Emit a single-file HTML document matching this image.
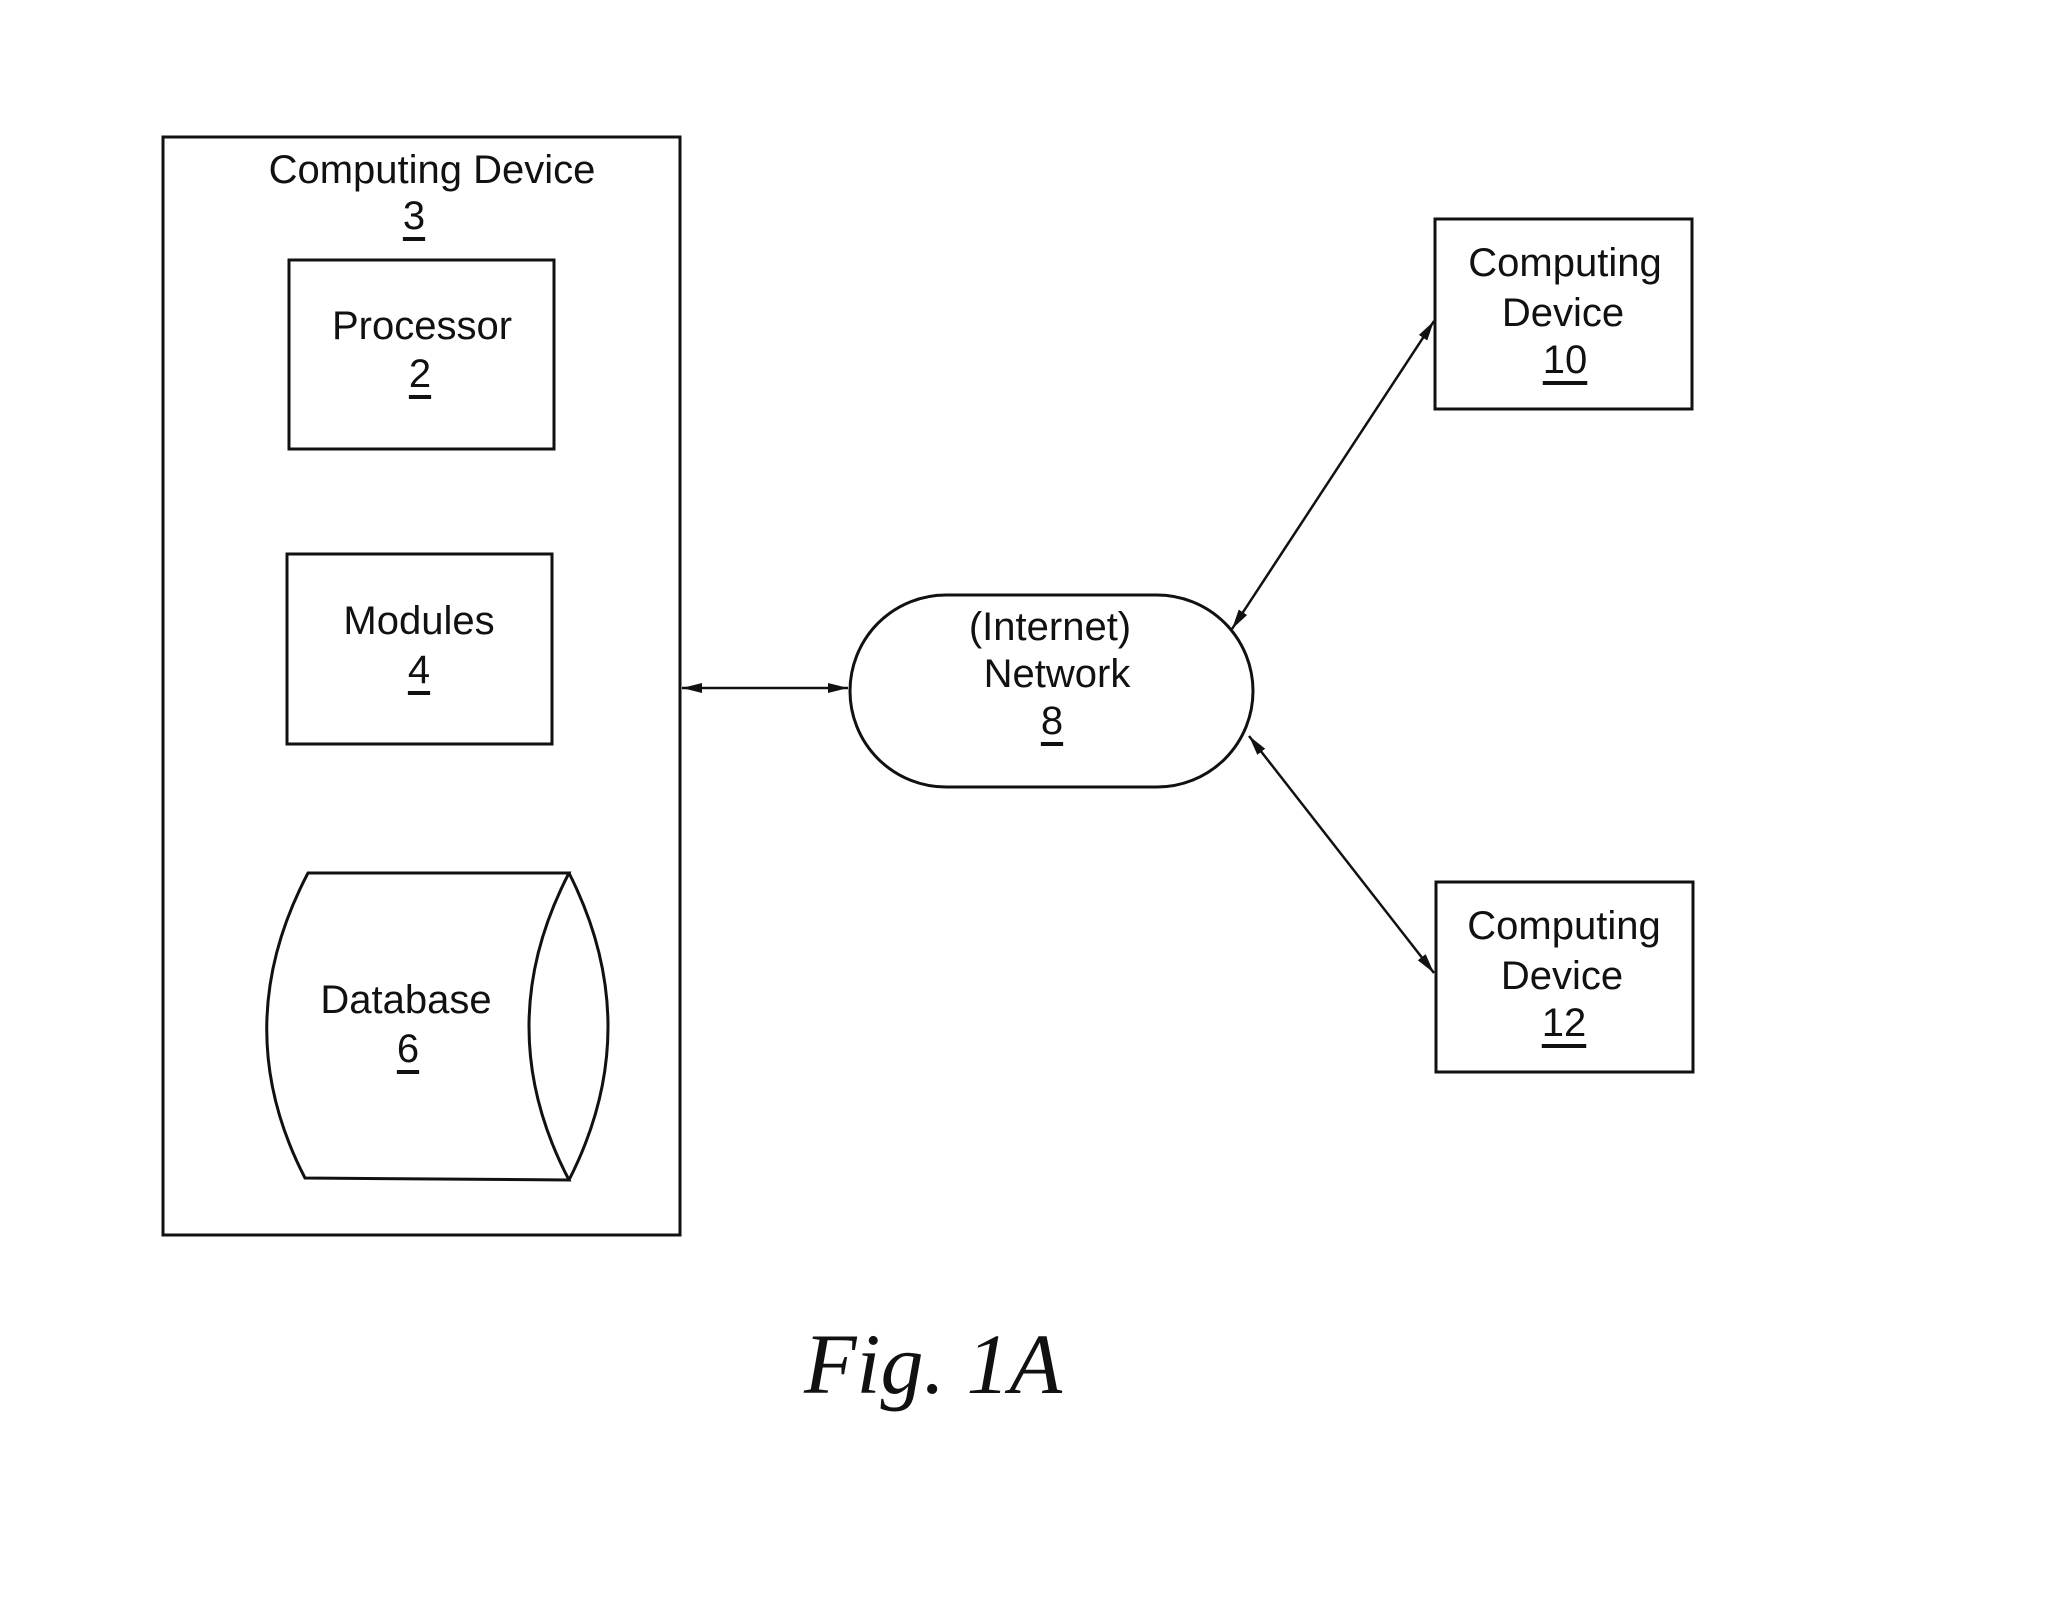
<!DOCTYPE html>
<html><head><meta charset="utf-8"><style>
html,body{margin:0;padding:0;background:#fff;}
svg{display:block;}
text{font-family:"Liberation Sans",sans-serif;font-size:40px;fill:#111;}
</style></head><body>
<svg width="2047" height="1611" viewBox="0 0 2047 1611" xmlns="http://www.w3.org/2000/svg">
<defs>
<marker id="ah" viewBox="0 0 20 12" refX="20" refY="6" markerWidth="20" markerHeight="12" orient="auto-start-reverse" markerUnits="userSpaceOnUse">
<path d="M0,1 L20,6 L0,11 Z" fill="#111"/>
</marker>
</defs>
<g fill="none" stroke="#111" stroke-width="3">
<rect x="163" y="137" width="517" height="1098"/>
<rect x="289" y="260" width="265" height="189"/>
<rect x="287" y="554" width="265" height="190"/>
<path d="M308,873 L569,873 Q489,1027 569,1180 L305,1178 Q227,1027 308,873 Z"/>
<path d="M569,873 Q647,1027 569,1180"/>
<rect x="850" y="595" width="403" height="192" rx="96" ry="96"/>
<rect x="1435" y="219" width="257" height="190"/>
<rect x="1436" y="882" width="257" height="190"/>
<line x1="682" y1="688" x2="848" y2="688" marker-start="url(#ah)" marker-end="url(#ah)" stroke-width="2.5"/>
<line x1="1232" y1="629" x2="1434" y2="321" marker-start="url(#ah)" marker-end="url(#ah)" stroke-width="2.5"/>
<line x1="1249" y1="736" x2="1434" y2="973" marker-start="url(#ah)" marker-end="url(#ah)" stroke-width="2.5"/>
</g>
<g text-anchor="middle" dominant-baseline="central">
<text x="432" y="170">Computing Device</text>
<text x="414" y="216" text-decoration="underline">3</text>
<text x="422" y="326">Processor</text>
<text x="420" y="374" text-decoration="underline">2</text>
<text x="419" y="621">Modules</text>
<text x="419" y="670" text-decoration="underline">4</text>
<text x="406" y="1000">Database</text>
<text x="408" y="1049" text-decoration="underline">6</text>
<text x="1050" y="627">(Internet)</text>
<text x="1057" y="674">Network</text>
<text x="1052" y="721" text-decoration="underline">8</text>
<text x="1565" y="263">Computing</text>
<text x="1563" y="313">Device</text>
<text x="1565" y="360" text-decoration="underline">10</text>
<text x="1564" y="926">Computing</text>
<text x="1562" y="976">Device</text>
<text x="1564" y="1023" text-decoration="underline">12</text>
<text x="933" y="1364" style="font-family:'Liberation Serif',serif;font-style:italic;font-size:86px;">Fig. 1A</text>
</g>
</svg>
</body></html>
